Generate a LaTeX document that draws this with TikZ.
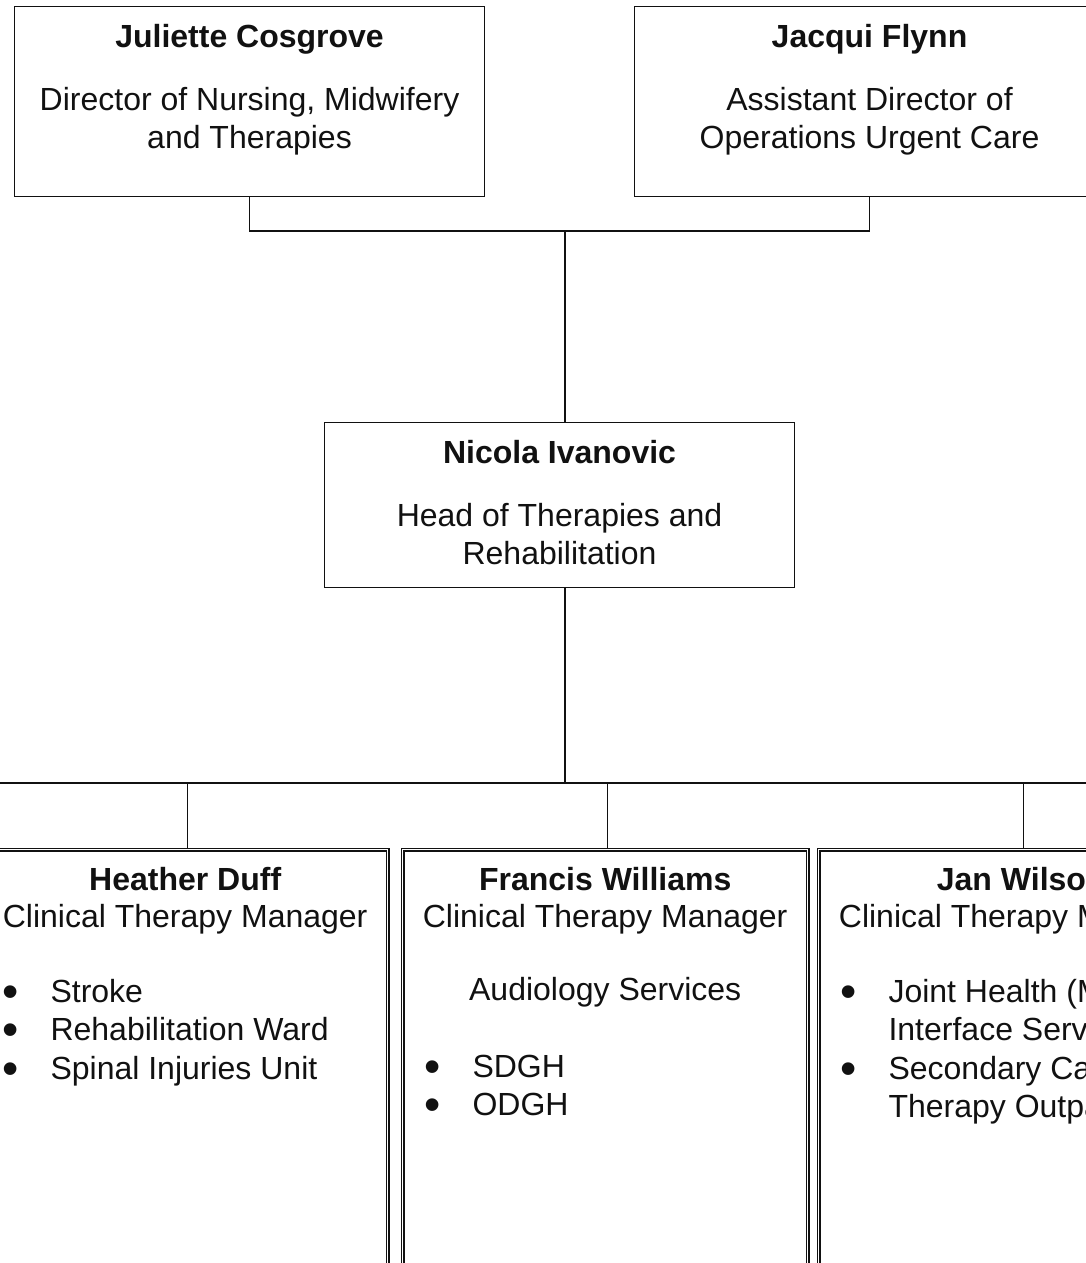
\documentclass[tikz,border=0pt]{standalone}
\usepackage{fontspec}
\setmainfont{Liberation Sans}
\usetikzlibrary{calc,positioning}
\definecolor{ink}{HTML}{111111}
\newcommand\bul{\makebox[18pt][l]{\smash{\raisebox{-1.9pt}{\scalebox{1.45}{\textbullet}}}}}
\newcommand\nobul{\hspace*{18pt}}
\tikzset{line width=.55pt,
  every node/.style={font=\fontsize{12}{14}\selectfont,inner sep=0pt,text=ink},
  box/.style={draw=ink,rectangle,anchor=north west},
  topbox/.style={box,minimum width=176.25pt,minimum height=71.25pt},
  headbox/.style={box,minimum width=176.25pt,minimum height=61.9pt},
  teambox/.style={box,double=white,double distance=.5pt,line width=.5pt,
    minimum width=151.9pt,minimum height=169pt},
  person/.style={anchor=base,font=\fontsize{12}{14}\selectfont\bfseries},
  role/.style={anchor=base},
  listline/.style={anchor=base west},
  link/.style={draw=ink}}

\begin{document}
\begin{tikzpicture}[x=.375pt,y=-.375pt]
\useasboundingbox (0,0) rectangle (1086,1263);
\clip (0,0) rectangle (1086,1263);
% boxes
\node[topbox] (jc) at (14,6) {};
\node[topbox] (jf) at (634,6) {};
\node[headbox] (ni) at (324,422) {};
\node[teambox] (hd) at (-18,849) {};
\node[teambox] (fw) at (402,849) {};
\node[teambox] (jw) at (818,849) {};
% names and roles
\foreach \b/\who/\ra/\rb in {jc/Juliette Cosgrove/{Director of Nursing, Midwifery}/and Therapies,
    jf/Jacqui Flynn/Assistant Director of/Operations Urgent Care,
    ni/Nicola Ivanovic/Head of Therapies and/Rehabilitation}{
  \node[person] (\b-who) at ($(\b.north)+(0,41)$) {\who};
  \node[role] (\b-ra) at ($(\b.north)+(0,104)$) {\ra};
  \node[role] (\b-rb) at ($(\b.north)+(0,142)$) {\rb};
}
\foreach \b/\who in {hd/Heather Duff,fw/Francis Williams,jw/Jan Wilson}{
  \node[person] (\b-who) at ($(\b.north)+(0,41)$) {\who};
  \node[role] (\b-role) at ($(\b.north)+(0,78)$) {Clinical Therapy Manager};
}
% service lists
\foreach \txt [count=\i from 0] in {\bul Stroke,\bul Rehabilitation Ward,\bul Spinal Injuries Unit}
  \node[listline] (hd-\i) at ($(hd.north west)+(20,{153+38.5*\i})$) {\txt};
\node[role] (fw-aud) at ($(fw.north)+(0,151)$) {Audiology Services};
\foreach \txt [count=\i from 2] in {\bul SDGH,\bul ODGH}
  \node[listline] (fw-\i) at ($(fw.north west)+(22,{151+38.5*\i})$) {\txt};
\foreach \txt [count=\i from 0] in {\bul Joint Health (MSK),\nobul Interface Service,
    \bul Secondary Care,\nobul Therapy Outpatients}
  \node[listline] (jw-\i) at ($(jw.north west)+(22,{153+38.5*\i})$) {\txt};
% connectors
\coordinate (topjoin) at (565,231);
\coordinate (lowjoin) at (565,783);
\coordinate (busleft) at (-10,783);
\coordinate (busright) at (1100,783);
\draw[link] (jc.south) |- (topjoin) -| (jf.south);
\draw[link] (topjoin) -- (topjoin |- ni.north);
\draw[link] (lowjoin |- ni.south) -- (lowjoin);
\draw[link] (busleft) -- (busright);
\foreach \b in {hd,fw,jw}
  \draw[link] ([xshift=.9pt]\b.north |- lowjoin) -- ([xshift=.9pt]\b.north);
\end{tikzpicture}
\end{document}
